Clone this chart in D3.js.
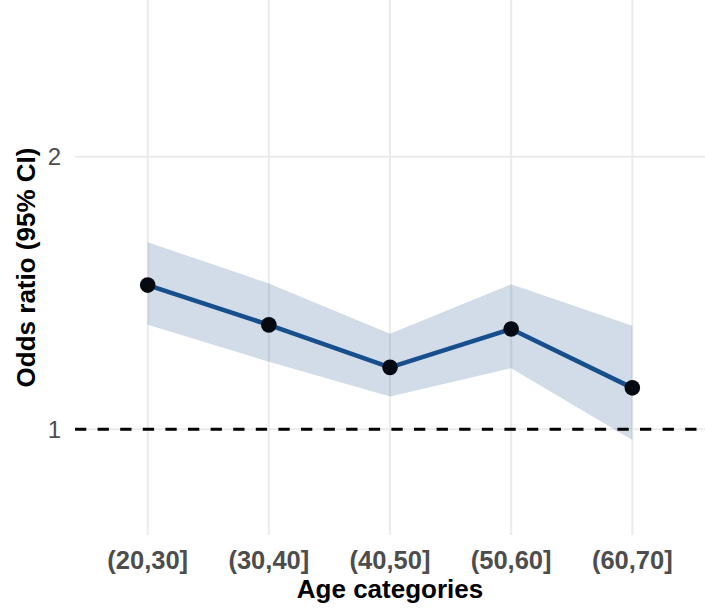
<!DOCTYPE html>
<html>
<head>
<meta charset="utf-8">
<script src="https://cdn.jsdelivr.net/npm/d3@7"></script>
<style>
  html, body { margin: 0; padding: 0; background: #ffffff; }
  svg { display: block; font-family: "Liberation Sans", Arial, sans-serif; }
</style>
</head>
<body>
<svg id="chart" width="705" height="608"></svg>
<script>
// Age groups and odds ratio estimates with 95% confidence limits
const categories = ["(20,30]", "(30,40]", "(40,50]", "(50,60]", "(60,70]"];
const oddsRatio = [1.529, 1.383, 1.227, 1.368, 1.152];
const lowerCI   = [1.383, 1.248, 1.120, 1.224, 0.961];
const upperCI   = [1.686, 1.535, 1.350, 1.532, 1.380];
const yTicks = [1, 2];
const referenceValue = 1;

const rows = categories.map((c, i) => ({
  cat: c, or: oddsRatio[i], lo: lowerCI[i], hi: upperCI[i]
}));

const svg = d3.select("#chart");
const panel = { left: 75, right: 705, top: 0, bottom: 535 };

// Discrete x scale with ggplot-style 0.6 expansion on each side
const step = (panel.right - panel.left) / (categories.length - 1 + 1.2);
const x = d3.scalePoint()
  .domain(categories)
  .range([panel.left + 0.6 * step, panel.right - 0.6 * step]);

const y = d3.scaleLinear()
  .domain([0.612, 2.575])
  .range([panel.bottom, panel.top]);

const g = svg.append("g");

// Grid lines
g.append("g").selectAll("line.h")
  .data(yTicks)
  .join("line")
  .attr("x1", panel.left).attr("x2", panel.right)
  .attr("y1", d => y(d)).attr("y2", d => y(d))
  .attr("stroke", "#ebebeb").attr("stroke-width", 2);

g.append("g").selectAll("line.v")
  .data(categories)
  .join("line")
  .attr("x1", d => x(d)).attr("x2", d => x(d))
  .attr("y1", panel.top).attr("y2", panel.bottom)
  .attr("stroke", "#ebebeb").attr("stroke-width", 2);

// Confidence band
const band = d3.area()
  .x(d => x(d.cat))
  .y0(d => y(d.lo))
  .y1(d => y(d.hi));
g.append("path")
  .datum(rows)
  .attr("d", band)
  .attr("fill", "#1f4e8c")
  .attr("fill-opacity", 0.2);

// Reference line at OR = 1
g.append("line")
  .attr("x1", panel.left).attr("x2", panel.right)
  .attr("y1", y(referenceValue)).attr("y2", y(referenceValue))
  .attr("stroke", "#000000")
  .attr("stroke-width", 2.8)
  .attr("stroke-dasharray", "11.3,11.3");

// Estimate line
const line = d3.line()
  .x(d => x(d.cat))
  .y(d => y(d.or));
g.append("path")
  .datum(rows)
  .attr("d", line)
  .attr("fill", "none")
  .attr("stroke", "#174f8c")
  .attr("stroke-width", 4.6)
  .attr("stroke-linejoin", "round");

// Points
g.append("g").selectAll("circle")
  .data(rows)
  .join("circle")
  .attr("cx", d => x(d.cat))
  .attr("cy", d => y(d.or))
  .attr("r", 7.8)
  .attr("fill", "#050a12");

// Y tick labels
svg.append("g").selectAll("text")
  .data(yTicks)
  .join("text")
  .attr("x", 61)
  .attr("y", d => y(d))
  .attr("dy", "0.36em")
  .attr("text-anchor", "end")
  .attr("font-size", 24)
  .attr("fill", "#4d4d4d")
  .text(d => d3.format("d")(d));

// X tick labels
svg.append("g").selectAll("text")
  .data(categories)
  .join("text")
  .attr("x", d => x(d))
  .attr("y", 569)
  .attr("text-anchor", "middle")
  .attr("font-size", 25.5)
  .attr("font-weight", "bold")
  .attr("fill", "#4d4d4d")
  .text(d => d);

// Axis titles
svg.append("text")
  .attr("x", (panel.left + panel.right) / 2)
  .attr("y", 598)
  .attr("text-anchor", "middle")
  .attr("font-size", 26)
  .attr("font-weight", "bold")
  .attr("fill", "#000000")
  .text("Age categories");

svg.append("text")
  .attr("transform", `translate(35, ${(panel.top + panel.bottom) / 2}) rotate(-90)`)
  .attr("text-anchor", "middle")
  .attr("font-size", 26)
  .attr("font-weight", "bold")
  .attr("fill", "#000000")
  .text("Odds ratio (95% CI)");
</script>
</body>
</html>
